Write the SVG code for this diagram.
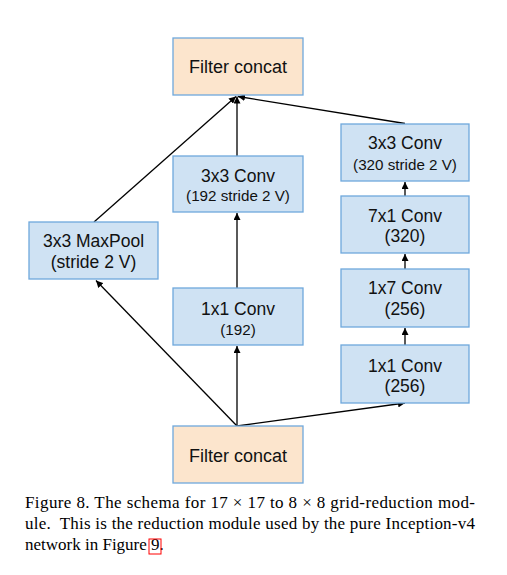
<svg xmlns="http://www.w3.org/2000/svg" width="507" height="575" viewBox="0 0 507 575">
<style>
.box{fill:#cfe2f3;stroke:#6fa8dc;stroke-width:1.3}
.cat{fill:#fce5cd;stroke:#6fa8dc;stroke-width:1.3}
.t{font-family:"Liberation Sans",Arial,sans-serif;font-size:17.5px;fill:#111;text-anchor:middle}
.s{font-family:"Liberation Sans",Arial,sans-serif;font-size:15.2px;fill:#111;text-anchor:middle}
.e{stroke:#000;stroke-width:1.3;fill:none;marker-end:url(#ah)}
.cap{font-family:"Liberation Serif","Times New Roman",serif;font-size:17px;fill:#000}
</style>
<defs>
<marker id="ah" markerUnits="userSpaceOnUse" markerWidth="8" markerHeight="7" refX="7" refY="3.5" orient="auto">
<path d="M0,0 L7,3.5 L0,7 z" fill="#000"/>
</marker>
</defs>
<rect width="507" height="575" fill="#fff"/>
<g id="connectors">
<line class="e" x1="237" y1="426" x2="237" y2="346"/>
<line class="e" x1="237" y1="426" x2="96" y2="280.5"/>
<line class="e" x1="237" y1="426" x2="405" y2="403"/>
<line class="e" x1="237" y1="288" x2="237" y2="213"/>
<line class="e" x1="237" y1="156" x2="237" y2="96.5"/>
<line class="e" x1="94" y1="222" x2="236" y2="96.5"/>
<line class="e" x1="405" y1="123.5" x2="238" y2="96.5"/>
<line class="e" x1="405" y1="345" x2="405" y2="328"/>
<line class="e" x1="405" y1="269" x2="405" y2="254"/>
<line class="e" x1="405" y1="196" x2="405" y2="182"/>
</g>
<g id="concat_top">
<rect class="cat" x="173" y="38" width="130" height="57"/>
<text class="t" x="238" y="73" style="font-size:18px">Filter concat</text>
</g>
<g id="conv3x3_192">
<rect class="box" x="173" y="156" width="130" height="56"/>
<text class="t" x="238" y="181.5">3x3 Conv</text>
<text class="s" x="238" y="201">(192 stride 2 V)</text>
</g>
<g id="maxpool">
<rect class="box" x="29" y="222" width="129" height="57"/>
<text class="t" x="93.5" y="246.5">3x3 MaxPool</text>
<text class="t" x="93.5" y="268">(stride 2 V)</text>
</g>
<g id="conv1x1_192">
<rect class="box" x="173" y="288" width="130" height="57"/>
<text class="t" x="238" y="315">1x1 Conv</text>
<text class="s" x="238" y="335">(192)</text>
</g>
<g id="conv3x3_320">
<rect class="box" x="341" y="124" width="128" height="57"/>
<text class="t" x="405" y="149">3x3 Conv</text>
<text class="s" x="405" y="170">(320 stride 2 V)</text>
</g>
<g id="conv7x1_320">
<rect class="box" x="341" y="196" width="128" height="57"/>
<text class="t" x="405" y="221.5">7x1 Conv</text>
<text class="t" x="405" y="241.5">(320)</text>
</g>
<g id="conv1x7_256">
<rect class="box" x="341" y="269" width="128" height="58"/>
<text class="t" x="405" y="294">1x7 Conv</text>
<text class="t" x="405" y="315">(256)</text>
</g>
<g id="conv1x1_256">
<rect class="box" x="341" y="345" width="128" height="58"/>
<text class="t" x="405" y="371.5">1x1 Conv</text>
<text class="t" x="405" y="391.5">(256)</text>
</g>
<g id="concat_bottom">
<rect class="cat" x="173" y="426" width="130" height="57"/>
<text class="t" x="238" y="461.5" style="font-size:18px">Filter concat</text>
</g>
<g id="caption">
<text class="cap" x="25" y="508" textLength="450" lengthAdjust="spacing">Figure 8. The schema for 17 × 17 to 8 × 8 grid-reduction mod-</text>
<text class="cap" x="25" y="529" textLength="450" lengthAdjust="spacing">ule.&#160; This is the reduction module used by the pure Inception-v4</text>
<text class="cap" x="25" y="550">network in Figure</text>
<text class="cap" x="151" y="550">9</text>
<text class="cap" x="159.5" y="550">.</text>
<rect x="149" y="539" width="12" height="15" fill="none" stroke="#f00" stroke-width="1"/>
</g>
</svg>
